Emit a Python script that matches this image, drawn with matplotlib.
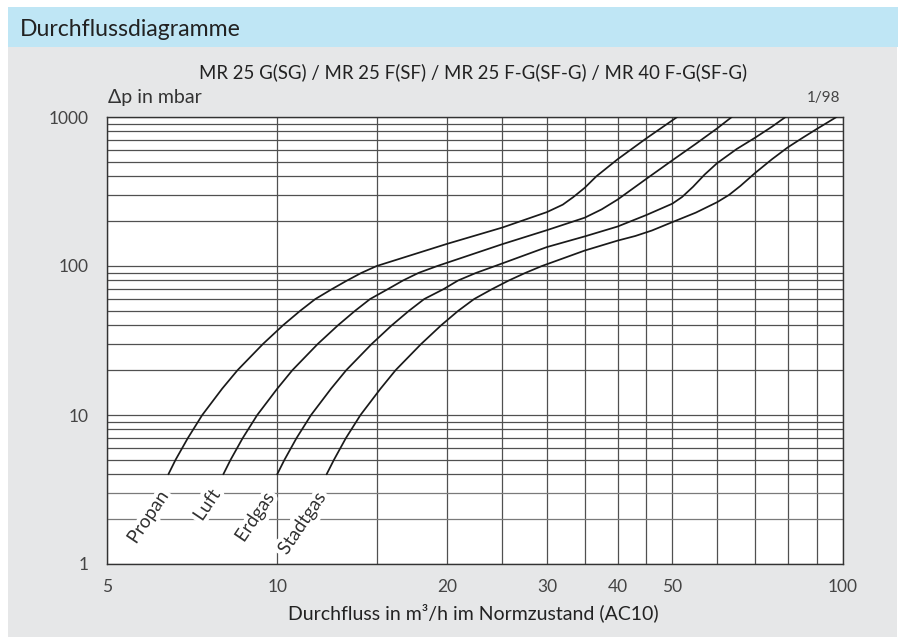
import matplotlib
matplotlib.use("Agg")
import matplotlib.pyplot as plt
from matplotlib.patches import Rectangle
import matplotlib.patheffects as pe
from matplotlib.ticker import FixedLocator, NullFormatter, FixedFormatter

plt.rcParams['font.family'] = ['Lato', 'DejaVu Sans']

# ---- data ----
propan_x = [6.42, 6.61, 6.95, 7.37, 7.99, 8.51, 9.44, 10.24, 10.98, 11.68, 12.5, 13.3, 14.1, 15.0,
            20, 25, 30, 32, 33.4, 35, 36.7, 40, 45, 51]
propan_y = [4, 5, 7, 10, 15, 20, 30, 40, 50, 60, 70, 80, 90, 100,
            141, 181, 230, 258, 290, 335, 400, 520, 720, 1000]

luft_x = [8.03, 8.27, 8.69, 9.22, 10.0, 10.64, 11.80, 12.81, 13.73, 14.6, 15.7, 16.7, 17.8, 19.2,
          25, 30, 35, 37.5, 40, 45, 50, 55, 60, 63.7]
luft_y = [4, 5, 7, 10, 15, 20, 30, 40, 50, 60, 70, 80, 90, 100,
          140, 174, 211, 240, 279, 385, 512, 660, 838, 1000]

erdgas_x = [10.0, 10.3, 10.82, 11.48, 12.45, 13.25, 14.7, 15.95, 17.1, 18.2, 19.7, 20.9, 22.5, 24.3,
            30, 35, 40, 45, 50, 52, 54.4, 57, 60, 65, 70, 75, 79.3]
erdgas_y = [4, 5, 7, 10, 15, 20, 30, 40, 50, 60, 70, 80, 90, 100,
            134, 158, 184, 220, 262, 290, 340, 410, 490, 610, 725, 860, 1000]

stadtgas_x = [12.23, 12.6, 13.23, 14.04, 15.23, 16.2, 17.98, 19.5, 20.9, 22.3, 24.0, 25.7, 27.5, 29.4,
              35, 40, 43, 46, 50, 55, 60, 63, 66, 70, 75, 80, 85, 90, 97.6]
stadtgas_y = [4, 5, 7, 10, 15, 20, 30, 40, 50, 60, 70, 80, 90, 100,
              127, 148, 159, 173, 197, 228, 268, 300, 345, 420, 520, 625, 725, 830, 1000]

gas_names = ["Propan", "Luft", "Erdgas", "Stadtgas"]
label_x = [5.91, 7.51, 9.13, 11.06]
label_y = [2.06, 2.48, 2.06, 1.87]

x_major = [5, 10, 20, 30, 40, 50, 100]
x_major_labels = ["5", "10", "20", "30", "40", "50", "100"]
x_minor = [15, 25, 35, 45, 60, 70, 80, 90]
y_major = [1, 10, 100, 1000]
y_major_labels = ["1", "10", "100", "1000"]
y_minor = [2, 3, 4, 5, 6, 7, 8, 9, 20, 30, 40, 50, 60, 70, 80, 90,
           200, 300, 400, 500, 600, 700, 800, 900]
light_y_grid = [2, 3]

title = "Durchflussdiagramme"
subtitle = "MR 25 G(SG) / MR 25 F(SF) / MR 25 F-G(SF-G) / MR 40 F-G(SF-G)"
ylabel = "\u0394p in mbar"
corner = "1/98"
xlabel = "Durchfluss in m\u00b3/h im Normzustand (AC10)"

# ---- figure ----
W, H = 898, 637
fig = plt.figure(figsize=(W / 100, H / 100), dpi=100)
fig.patch.set_facecolor("white")

def fx(px):
    return px / W

def fy(py):
    return 1 - py / H

fig.patches.append(Rectangle((fx(8), fy(637)), fx(897) - fx(8), fy(47) - fy(637),
                             transform=fig.transFigure, facecolor="#e6e7e8", edgecolor="none", zorder=-10))
fig.patches.append(Rectangle((fx(8), fy(47)), 1 - fx(8), fy(7) - fy(47),
                             transform=fig.transFigure, facecolor="#bfe6f5", edgecolor="none", zorder=-10))

fig.text(fx(20), fy(29), title, fontsize=16.6, color="#222222", va="center", ha="left")
fig.text(fx(473), fy(72), subtitle, fontsize=13.4, color="#222222", va="center", ha="center")
fig.text(fx(108), fy(98), ylabel, fontsize=14, color="#333333", va="center", ha="left")
fig.text(fx(840), fy(98), corner, fontsize=11, color="#444444", va="center", ha="right")
fig.text(fx(473), fy(613), xlabel, fontsize=14, color="#222222", va="center", ha="center")

ax = fig.add_axes([fx(107), fy(564), fx(842.5) - fx(107), fy(117) - fy(564)])
ax.set_zorder(1)
ax.set_facecolor("white")
ax.set_xscale("log")
ax.set_yscale("log")
ax.set_xlim(5, 100)
ax.set_ylim(1, 1000)

ax.xaxis.set_major_locator(FixedLocator(x_major))
ax.xaxis.set_major_formatter(FixedFormatter(x_major_labels))
ax.xaxis.set_minor_locator(FixedLocator(x_minor))
ax.xaxis.set_minor_formatter(NullFormatter())
ax.yaxis.set_major_locator(FixedLocator(y_major))
ax.yaxis.set_major_formatter(FixedFormatter(y_major_labels))
ax.yaxis.set_minor_locator(FixedLocator(y_minor))
ax.yaxis.set_minor_formatter(NullFormatter())

ax.tick_params(which="both", length=0)
ax.tick_params(axis="x", pad=11, labelsize=12.5, labelcolor="#444444")
ax.tick_params(axis="y", pad=13, labelsize=12.5, labelcolor="#444444")

ax.grid(True, which="both", color="#505050", linewidth=0.9)
ax.set_axisbelow(True)
for val, tick in zip(y_minor, ax.yaxis.get_minor_ticks()):
    if val in light_y_grid:
        tick.gridline.set_color("#7a7a7a")
for s in ax.spines.values():
    s.set_color("#333333")
    s.set_linewidth(1.0)

for xs, ys in [(propan_x, propan_y), (luft_x, luft_y), (erdgas_x, erdgas_y), (stadtgas_x, stadtgas_y)]:
    ax.plot(xs, ys, color="#1a1a1a", linewidth=1.25, zorder=3,
            solid_joinstyle="round", solid_capstyle="round")

for name, lx, ly in zip(gas_names, label_x, label_y):
    ax.text(lx, ly, name, rotation=56, rotation_mode="anchor", ha="center", va="center",
            fontsize=13.5, color="#333333", zorder=4,
            path_effects=[pe.withStroke(linewidth=6, foreground="white")])

fig.savefig("out.png", dpi=100, facecolor=fig.get_facecolor())
